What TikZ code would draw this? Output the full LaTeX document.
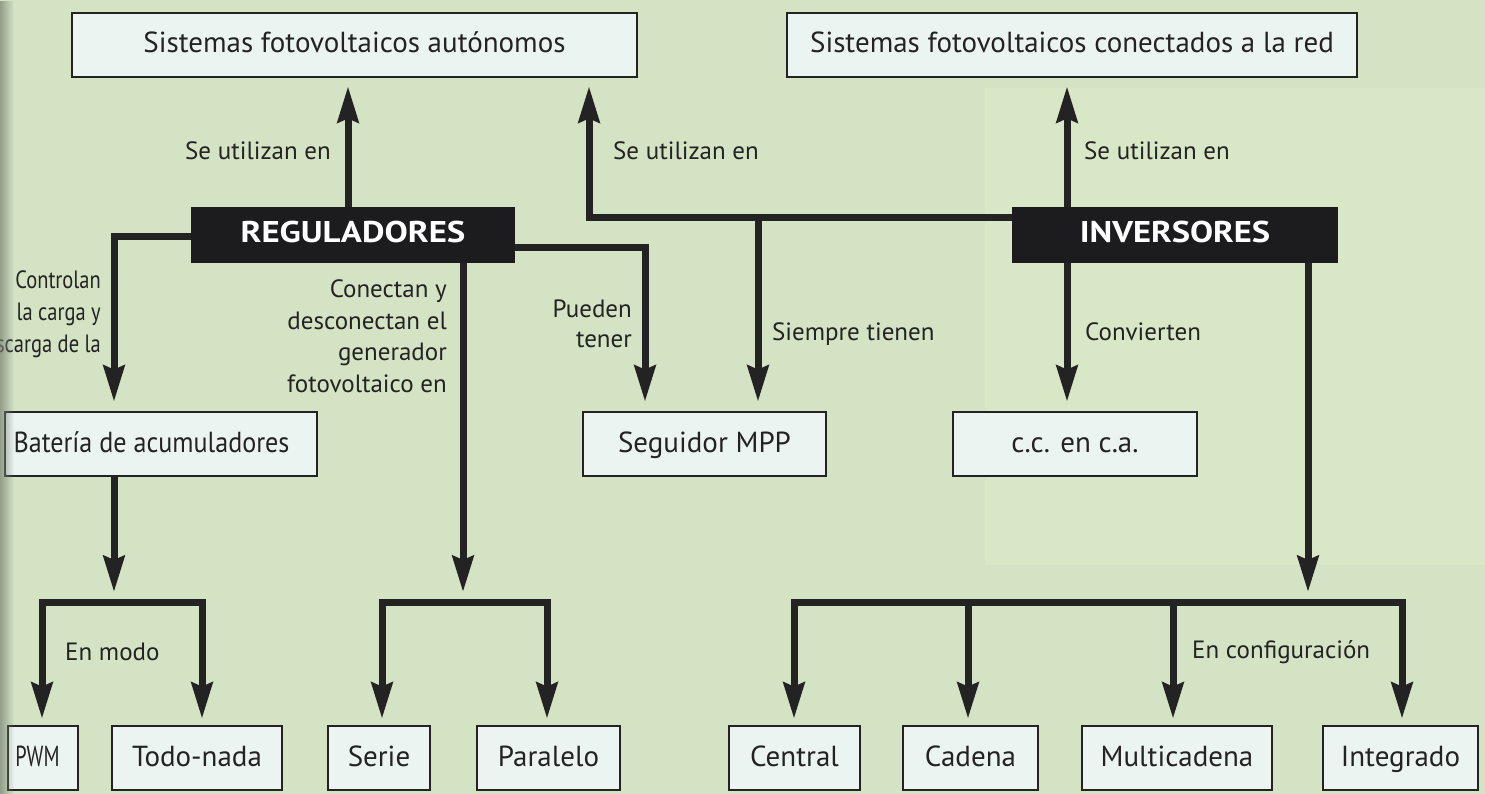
\documentclass[tikz,border=0pt]{standalone}
\usepackage{fontspec}
\setmainfont{PT Sans}
\usetikzlibrary{arrows.meta,fadings}
\definecolor{bg}{RGB}{211,227,196}
\definecolor{bglight}{RGB}{216,231,198}
\definecolor{boxfill}{RGB}{236,244,241}
\definecolor{ink}{RGB}{35,35,35}
\definecolor{darkbox}{RGB}{28,28,30}
\definecolor{gutter}{RGB}{120,130,115}
\begin{document}
\begin{tikzpicture}[x=1pt,y=-1pt,
  box/.style={draw=ink, line width=2.8pt, fill=boxfill, minimum height=64pt,
    inner sep=0pt, text height=20pt, text depth=4pt,
    font=\fontsize{29}{34}\selectfont, text=ink},
  dbox/.style={fill=darkbox, minimum height=56pt, inner sep=0pt,
    text height=21pt, text depth=5pt,
    font=\bfseries\fontsize{30}{36}\selectfont, text=white},
  lbl/.style={font=\fontsize{25}{31}\selectfont, text=ink, inner sep=0pt},
  conn/.style={draw=ink, line width=7pt},
  arr/.style={conn, -{Stealth[length=36pt,width=21pt,inset=4pt]}},
  arrs/.style={conn, {Stealth[length=36pt,width=21pt,inset=4pt]}-{Stealth[length=36pt,width=21pt,inset=4pt]}}
]
\useasboundingbox (0,0) rectangle (1485,794);
\fill[bg] (0,0) rectangle (1485,794);
\fill[bglight] (985,88) rectangle (1485,565);
\clip (0,0) rectangle (1485,794);

% boxes
\node[box, minimum width=565pt] (A) at (354.5,45) {Sistemas fotovoltaicos autónomos};
\node[box, minimum width=570pt] (B) at (1072,45) {Sistemas fotovoltaicos conectados a la red};
\node[dbox, minimum width=324pt] (REG) at (353,235) {\scalebox{1.16}[1]{REGULADORES}};
\node[dbox, minimum width=326pt] (INV) at (1175,235) {\scalebox{1.15}[1]{INVERSORES}};
\node[box, minimum width=312pt] (BAT) at (161,444) {\hspace*{-19pt}\scalebox{0.9}[1]{Batería de acumuladores}};
\node[box, minimum width=243pt] (MPP) at (704.5,444) {Seguidor MPP};
\node[box, minimum width=244pt] (CC) at (1075,444) {c.c. en c.a.};
\node[box, minimum width=70pt] (PWM) at (43,758) {\hspace*{-11pt}\scalebox{0.7}[1]{PWM}};
\node[box, minimum width=170pt] (TODO) at (197,758) {Todo-nada};
\node[box, minimum width=102pt] (SERIE) at (379,758) {Serie};
\node[box, minimum width=143pt] (PARA) at (548.5,758) {Paralelo};
\node[box, minimum width=131pt] (CENT) at (794.5,758) {Central};
\node[box, minimum width=135pt] (CAD) at (970.5,758) {Cadena};
\node[box, minimum width=190pt] (MULTI) at (1177,758) {Multicadena};
\node[box, minimum width=155pt] (INTEG) at (1400.5,758) {Integrado};

% helper coordinates
\coordinate (regT) at ([xshift=-5pt]REG.north);
\coordinate (regL) at ([yshift=-2pt]REG.west);
\coordinate (regR) at ([yshift=-13pt]REG.east);
\coordinate (regB) at ([xshift=110pt]REG.south);
\coordinate (invL) at ([yshift=17pt]INV.west);
\coordinate (invT) at ([xshift=-108pt]INV.north);
\coordinate (invB) at ([xshift=-108pt]INV.south);
\coordinate (invBR) at ([xshift=133pt]INV.south);
\coordinate (batB) at ([xshift=-47pt]BAT.south);
\coordinate (batT) at ([xshift=-47pt]BAT.north);
\coordinate (aR) at ([xshift=234.5pt]A.south);
\coordinate (mppL) at ([xshift=-59.5pt]MPP.north);
\coordinate (mppR) at ([xshift=53.5pt]MPP.north);
\coordinate (ccT) at ([xshift=-8pt]CC.north);
\coordinate (barL) at (0,602);
\coordinate (pwmT) at ([xshift=-1pt]PWM.north);
\coordinate (todoT) at ([xshift=5pt]TODO.north);
\coordinate (serT) at ([xshift=3pt]SERIE.north);
\coordinate (parT) at ([xshift=-1.5pt]PARA.north);
\coordinate (cenT) at ([xshift=-0.5pt]CENT.north);
\coordinate (cadT) at ([xshift=-2.5pt]CAD.north);
\coordinate (mulT) at ([xshift=-4pt]MULTI.north);
\coordinate (intT) at ([xshift=1.5pt]INTEG.north);
\coordinate (bar1) at (batB |- barL);
\coordinate (bar2) at (regB |- barL);
\coordinate (bar3) at (invBR |- barL);

% connectors
\draw[arr, shorten >=8pt] (regT) -- (regT |- A.south);
\draw[arr, shorten >=9pt] (regL) -| (batT);
\draw[arr, shorten >=9pt] (regR) -| (mppL);
\draw[arr, shorten >=8pt] (invL) -| (aR);
\draw[arr, shorten >=9pt] (mppR |- invL) -- (mppR);
\draw[arr, shorten >=8pt] (invT) -- (invT |- B.south);
\draw[arr, shorten >=9pt] (invB) -- (invB |- ccT);
\draw[arr, shorten >=10pt] (regB) -- (bar2);
\draw[arr, shorten >=10pt] (batB) -- (bar1);
\draw[arr, shorten >=10pt] (invBR) -- (bar3);
\draw[arrs, shorten <=6pt, shorten >=6pt] (pwmT) |- (bar1) -| (todoT);
\draw[arrs, shorten <=6pt, shorten >=6pt] (serT) |- (bar2) -| (parT);
\draw[arrs, shorten <=6pt, shorten >=6pt] (cenT) |- (bar3) -| (intT);
\draw[arr, shorten >=6pt] (cadT |- bar3) -- (cadT);
\draw[arr, shorten >=6pt] (mulT |- bar3) -- (mulT);

% labels
\node[lbl, anchor=base east] (l1) at (331,160) {Se utilizan en};
\node[lbl, anchor=base west] (l2) at (613,160) {Se utilizan en};
\node[lbl, anchor=base west] (l3) at (1084,160) {Se utilizan en};
\node[lbl, anchor=base east] (lc1) at (101,288) {\scalebox{0.82}[1]{Controlan}};
\node[lbl, anchor=base east] (lc2) at (101,320) {\scalebox{0.82}[1]{la carga y}};
\node[lbl, anchor=base east] (lc3) at (101,352) {\scalebox{0.82}[1]{descarga de la}};
\node[lbl, anchor=base east] (ln1) at (447,298) {Conectan y};
\node[lbl, anchor=base east] (ln2) at (447,329) {desconectan el};
\node[lbl, anchor=base east] (ln3) at (447,360) {generador};
\node[lbl, anchor=base east] (ln4) at (447,392) {fotovoltaico en};
\node[lbl, anchor=base east] (lp1) at (632,317) {Pueden};
\node[lbl, anchor=base east] (lp2) at (632,347) {tener};
\node[lbl, anchor=base west] (ls) at (772,340) {Siempre tienen};
\node[lbl, anchor=base west] (lv) at (1085,340) {Convierten};
\node[lbl, anchor=base west] (lm) at (65,660) {En modo};
\node[lbl, anchor=base west] (lf) at (1192,658) {En configuración};

% page gutter shadow
\fill[gutter, path fading=east, opacity=0.7] (0,0) rectangle (14,794);
\end{tikzpicture}
\end{document}
